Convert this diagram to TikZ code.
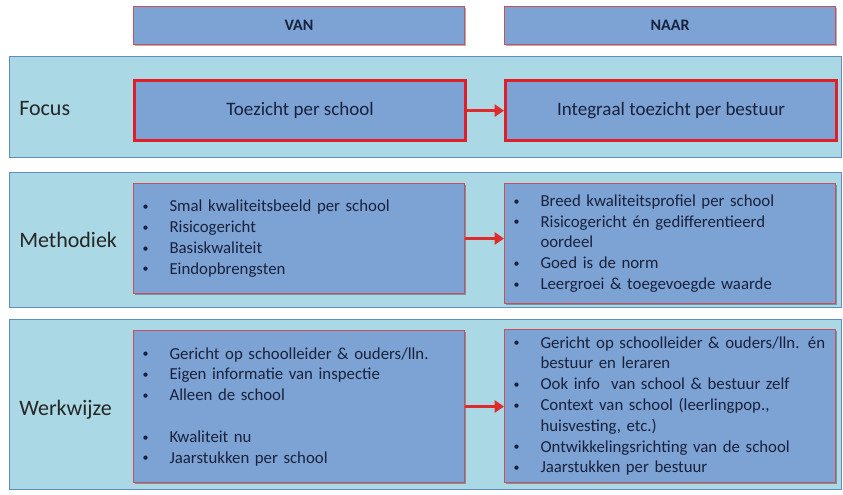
\documentclass[tikz,border=0pt]{standalone}
\usepackage{fontspec}
\setmainfont{Carlito}
\usetikzlibrary{arrows.meta,shadows}

\definecolor{panelfill}{RGB}{170,216,228}
\definecolor{paneledge}{RGB}{96,140,190}
\definecolor{boxfill}{RGB}{125,162,212}
\definecolor{boxedge}{RGB}{200,80,90}
\definecolor{focusedge}{RGB}{224,32,40}
\definecolor{arrowred}{RGB}{222,44,44}
\definecolor{textnavy}{RGB}{24,34,60}

\newlength\pxu
\setlength\pxu{0.75pt}
\newcommand{\bul}{\makebox[20.25pt][l]{\raisebox{0.9pt}{\fontsize{9pt}{9pt}\selectfont\textbullet}}}
\newcommand{\cont}{\hspace*{20.25pt}}

\tikzset{
  panel/.style={draw=paneledge,fill=panelfill,line width=0.9pt,anchor=north west,minimum width=832\pxu,inner sep=0pt},
  rowlabel/.style={anchor=west,inner sep=0pt,text=black!85,font=\fontsize{16.5pt}{19pt}\selectfont},
  boxshadow/.style={drop shadow={shadow xshift=1.2pt,shadow yshift=-1.2pt,opacity=.3,fill=black}},
  headbox/.style={draw=boxedge,fill=boxfill,line width=0.8pt,boxshadow,anchor=north west,minimum width=331\pxu,minimum height=38\pxu,text=textnavy,font=\bfseries\fontsize{12pt}{14pt}\selectfont},
  focusbox/.style={draw=focusedge,fill=boxfill,line width=2.4pt,boxshadow,anchor=north west,minimum width=331\pxu,minimum height=60\pxu,text=textnavy,font=\fontsize{14.25pt}{17pt}\selectfont},
  listbox/.style={draw=boxedge,fill=boxfill,line width=0.8pt,boxshadow,anchor=north west,text width=313\pxu,inner xsep=9\pxu,align=left,text=textnavy,font=\fontsize{12.6pt}{15.6pt}\selectfont},
  change/.style={draw=arrowred,line width=2.4pt,-{Triangle[length=7pt,width=9pt]}}
}

\begin{document}
\begin{tikzpicture}[x=\pxu,y=-\pxu]
    \fill[white] (0,0) rectangle (843,495);
    \useasboundingbox (0,0) rectangle (843,495);
    %% Column heads
    \node[headbox] (vanH) at (133,6) {VAN};
    \node[headbox] (naarH) at (504,6) {NAAR};
    %% Row panels
    \node[panel,minimum height=101\pxu] (focusP) at (9,56) {};
    \node[panel,minimum height=135\pxu] (methP) at (9,172) {};
    \node[panel,minimum height=170\pxu] (werkP) at (9,319) {};
    \node[rowlabel] (focusL) at (19,109) {Focus};
    \node[rowlabel] (methL) at (19,240) {Methodiek};
    \node[rowlabel] (werkL) at (19,410) {Werkwijze};
    %% Focus
    \node[focusbox] (vanF) at (133,79) {Toezicht per school};
    \node[focusbox] (naarF) at (504,79) {Integraal toezicht per bestuur};
    \draw[change] (vanF) -- (naarF);
    %% Methodiek
    \node[listbox,minimum height=110\pxu] (vanM) at (133,183) {%
        \bul Smal kwaliteitsbeeld per school\\
        \bul Risicogericht\\
        \bul Basiskwaliteit\\
        \bul Eindopbrengsten};
    \node[listbox,minimum height=120\pxu] (naarM) at (504,183) {%
        \bul Breed kwaliteitsprofiel per school\\
        \bul Risicogericht én gedifferentieerd\\
        \cont oordeel\\
        \bul Goed is de norm\\
        \bul Leergroei \& toegevoegde waarde};
    \draw[change] (vanM.east) -- (vanM.east -| naarM.west);
    %% Werkwijze
    \node[listbox,minimum height=152\pxu] (vanW) at (133,330) {%
        \bul Gericht op schoolleider \& ouders/lln.\\
        \bul Eigen informatie van inspectie\\
        \bul Alleen de school\\[15.6pt]
        \bul Kwaliteit nu\\
        \bul Jaarstukken per school};
    \node[listbox,minimum height=153\pxu] (naarW) at (504,329) {%
        \mbox{\bul Gericht op schoolleider \& ouders/lln. én}\\
        \cont bestuur en leraren\\
        \bul Ook info~ van school \& bestuur zelf\\
        \bul Context van school (leerlingpop.,\\
        \cont huisvesting, etc.)\\
        \bul Ontwikkelingsrichting van de school\\
        \bul Jaarstukken per bestuur};
    \draw[change] (vanW.east) -- (vanW.east -| naarW.west);
\end{tikzpicture}
\end{document}
